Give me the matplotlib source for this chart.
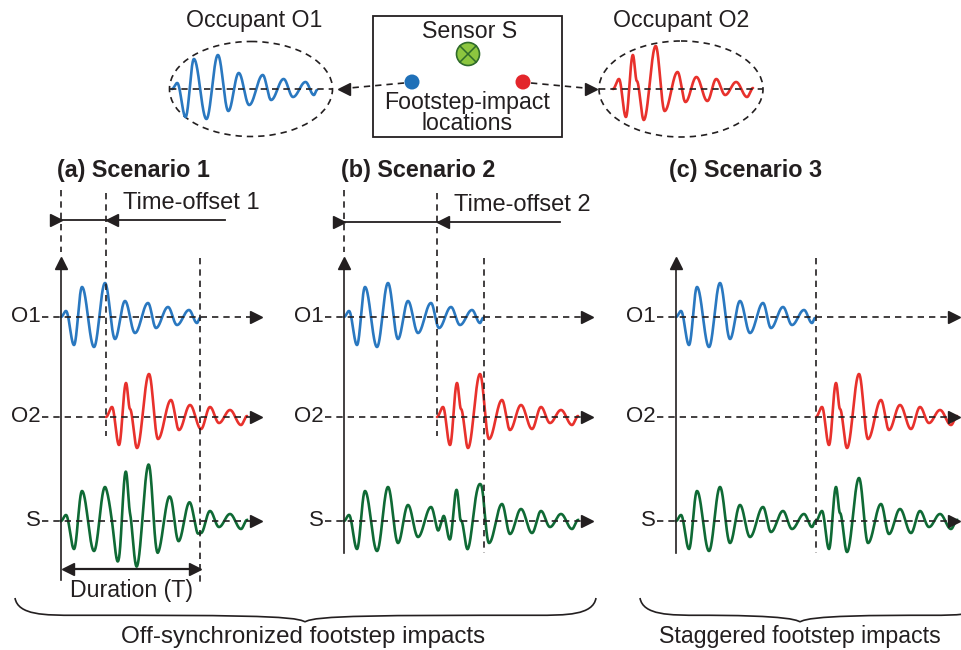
import numpy as np
import matplotlib.pyplot as plt
from matplotlib.patches import Ellipse, Circle, Rectangle, PathPatch
from matplotlib.path import Path

plt.rcParams['font.family'] = ['Liberation Sans', 'DejaVu Sans']

# waveform extrema (time in px from onset, amplitude in px)
o1_t = [0, 5, 13, 21, 33, 44, 54, 64, 74, 87, 95, 107, 116, 128, 136, 139]
o1_a = [0, 6, -28, 30, -30, 34, -22, 16, -16, 14, -11, 10, -8, 7, -6, -1]
o2_t = [0, 6, 13, 20, 24, 31, 43, 52, 65, 73, 84, 95, 104, 113, 124, 135, 141]
o2_a = [0, 10, -28, 34, 8, -31, 43, -22, 17, -13, 12, -12, 10, -6, 7, -8, 1]

panel_titles = ["(a) Scenario 1", "(b) Scenario 2", "(c) Scenario 3"]
row_labels = ["O1", "O2", "S"]
offset_labels = ["Time-offset 1", "Time-offset 2"]
group_labels = ["Off-synchronized footstep impacts", "Staggered footstep impacts"]

BLUE = '#2a78c0'
RED = '#e8312c'
GREEN = '#0f6a35'
INK = '#231f20'
DASH = (0, (3.8, 3.0))


def shape(t, et, ea):
    # smooth half-cosine stroke between consecutive extrema
    t = np.asarray(t, float)
    et = np.asarray(et, float)
    ea = np.asarray(ea, float)
    out = np.zeros_like(t)
    m = (t >= et[0]) & (t <= et[-1])
    i = np.clip(np.searchsorted(et, t[m], side='right') - 1, 0, len(et) - 2)
    u = (t[m] - et[i]) / (et[i + 1] - et[i])
    out[m] = ea[i] + (ea[i + 1] - ea[i]) * (1 - np.cos(np.pi * u)) / 2
    return out


def draw_wave(ax, et, ea, x0, y0, color, sx=1.0):
    t = np.linspace(0, et[-1], 800)
    ax.plot(x0 + sx * t, y0 - shape(t, et, ea), color=color, lw=1.9, zorder=3,
            solid_capstyle='round')


def head(ax, x, y, d):
    # filled triangle arrow head, tip at (x, y)
    off = {'>': (-5.5, 0), '<': (5.5, 0), '^': (0, 5.5), 'v': (0, -5.5)}[d]
    ax.plot(x + off[0], y + off[1], marker=d, ms=8.8, color=INK, mec=INK, zorder=5)


def vdash(ax, x, y0, y1):
    ax.plot([x, x], [y0, y1], color=INK, lw=1.2, ls=DASH, zorder=4)


def brace(ax, x0, x1, xt, y0, h):
    ym = y0 + 0.72 * h
    cc = [Path.MOVETO] + [Path.CURVE4] * 6
    left = Path([(x0, y0), (x0 + 3, ym), (x0 + 30, ym), (x0 + 60, ym),
                 (xt - 80, ym), (xt - 8, ym), (xt, y0 + h)], cc)
    right = Path([(x1, y0), (x1 - 3, ym), (x1 - 30, ym), (x1 - 60, ym),
                  (xt + 80, ym), (xt + 8, ym), (xt, y0 + h)], cc)
    for p in (left, right):
        ax.add_patch(PathPatch(p, fill=False, ec=INK, lw=1.2))


fig = plt.figure(figsize=(9.61, 6.5), dpi=100)
ax = fig.add_axes([0, 0, 1, 1])
ax.set_xlim(0, 961)
ax.set_ylim(650, 0)
ax.axis('off')

# ---- top legend part
ax.text(254, 20, "Occupant O1", fontsize=16.7, ha='center', va='center', color=INK)
ax.text(681, 21, "Occupant O2", fontsize=16.7, ha='center', va='center', color=INK)
ax.add_patch(Ellipse((251, 89), 163, 95, fill=False, ec=INK, lw=1.2, ls=DASH))
ax.add_patch(Ellipse((681, 89), 164, 96, fill=False, ec=INK, lw=1.2, ls=DASH))
ax.plot([170, 333], [89, 89], color=INK, lw=1.2, ls=DASH, zorder=4)
ax.plot([599, 763], [89, 89], color=INK, lw=1.2, ls=DASH, zorder=4)
draw_wave(ax, o1_t, o1_a, 172, 89, BLUE, sx=145 / 139)
draw_wave(ax, o2_t, o2_a, 613, 89, RED, sx=140 / 141)

ax.add_patch(Rectangle((373, 16), 189, 121, fill=False, ec=INK, lw=1.3))
ax.text(470, 31, "Sensor S", fontsize=16.7, ha='center', va='center', color=INK)
ax.add_patch(Circle((468, 54), 11.5, fc='#8cc63f', ec='#2f6b2a', lw=1.2, zorder=4))
r = 11.5 / np.sqrt(2)
ax.plot([468 - r, 468 + r], [54 - r, 54 + r], color='#2f6b2a', lw=1.1, zorder=5)
ax.plot([468 - r, 468 + r], [54 + r, 54 - r], color='#2f6b2a', lw=1.1, zorder=5)
ax.add_patch(Circle((412, 82), 7.5, fc='#1f70b8', ec='none', zorder=4))
ax.add_patch(Circle((523, 82), 7.5, fc='#e3262b', ec='none', zorder=4))
ax.text(467, 102, "Footstep-impact", fontsize=16.7, ha='center', va='center', color=INK)
ax.text(467, 124, "locations", fontsize=16.7, ha='center', va='center', color=INK)
ax.plot([404, 344], [83, 88.5], color=INK, lw=1.2, ls=DASH, zorder=3)
head(ax, 338, 89, '<')
ax.plot([531, 590], [83, 88.5], color=INK, lw=1.2, ls=DASH, zorder=3)
head(ax, 596, 89, '>')

# ---- scenario panels
rows_y = [317, 417, 521]
panels = [
    dict(ax_x=61, o2_x=106, end_x=200, tip=261, bottom=580, title_x=57),
    dict(ax_x=344, o2_x=437, end_x=484, tip=592, bottom=553, title_x=341),
    dict(ax_x=676, o2_x=816, end_x=816, tip=959, bottom=553, title_x=669),
]

for k, p in enumerate(panels):
    x0 = p['ax_x']
    ax.text(p['title_x'], 170, panel_titles[k], fontsize=16.8, fontweight='bold',
            ha='left', va='center', color=INK)
    # vertical axis
    ax.plot([x0, x0], [p['bottom'], 262], color=INK, lw=1.2, zorder=4)
    head(ax, x0, 257, '^')
    # baselines
    for lab, y in zip(row_labels, rows_y):
        ax.text(x0 - 20, y, lab, fontsize=16, ha='right', va='center', color=INK)
        ax.plot([x0 - 19, p['tip'] - 8], [y, y], color=INK, lw=1.2, ls=DASH, zorder=4)
        head(ax, p['tip'], y, '>')
    # waves
    draw_wave(ax, o1_t, o1_a, x0, rows_y[0], BLUE)
    draw_wave(ax, o2_t, o2_a, p['o2_x'], rows_y[1], RED)
    xs = np.linspace(x0, p['o2_x'] + o2_t[-1], 1500)
    s = shape(xs - x0, o1_t, o1_a) + shape(xs - p['o2_x'], o2_t, o2_a)
    ax.plot(xs, rows_y[2] - s, color=GREEN, lw=1.9, zorder=3)
    # end-of-duration marker
    vdash(ax, p['end_x'], 258, p['bottom'] + (3 if k == 0 else 0))
    # time offsets
    if k < 2:
        vdash(ax, x0, 190, 252)
        vdash(ax, p['o2_x'], 193, 436)
        yo = 220 if k == 0 else 222
        head(ax, x0, yo, '>')
        head(ax, p['o2_x'], yo, '<')
        rx = 225 if k == 0 else 560
        ax.plot([x0, rx], [yo, yo], color=INK, lw=1.3, zorder=4)
        ax.text(p['o2_x'] + 17, yo - 17, offset_labels[k], fontsize=17,
                ha='left', va='center', color=INK)

# duration arrow (panel a)
ax.plot([68, 194], [569, 569], color=INK, lw=1.6, zorder=4)
head(ax, 62, 569, '<')
head(ax, 200, 569, '>')
ax.text(132, 591, "Duration (T)", fontsize=16.7, ha='center', va='center', color=INK)

# group braces
brace(ax, 15, 596, 305, 598, 24)
brace(ax, 640, 990, 800, 598, 24)
ax.text(303, 637, group_labels[0], fontsize=17.4, ha='center', va='center', color=INK)
ax.text(800, 637, group_labels[1], fontsize=16.7, ha='center', va='center', color=INK)

fig.savefig("out.png", dpi=100)
